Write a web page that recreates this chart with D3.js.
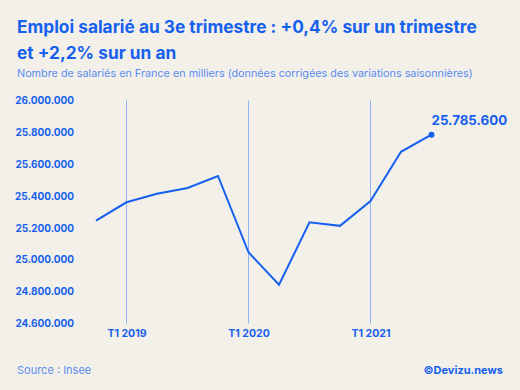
<!DOCTYPE html>
<meta charset="utf-8">
<script src="https://d3js.org/d3.v7.min.js"></script>
<style>
  body { margin: 0; background: #f3f0ea; }
  text { font-family: Inter, "Noto Sans", sans-serif; }
</style>
<div id="chart"></div>
<script>

// quarters from T4 2018 to T3 2021
var quarters = ["T4 2018", "T1 2019", "T2 2019", "T3 2019", "T4 2019", "T1 2020",
                "T2 2020", "T3 2020", "T4 2020", "T1 2021", "T2 2021", "T3 2021"];
var salaries = [25246000, 25361000, 25415000, 25451000, 25526000, 25047000,
                24843000, 25235000, 25213000, 25369000, 25678000, 25785600];
var yTicks = [24600000, 24800000, 25000000, 25200000, 25400000, 25600000, 25800000, 26000000];
var xMarks = ["T1 2019", "T1 2020", "T1 2021"];

var blue = "#1660ee";
var W = 520, H = 390;

var svg = d3.select("#chart").append("svg")
    .attr("width", W)
    .attr("height", H);

svg.append("rect").attr("width", W).attr("height", H).attr("fill", "#f3f0ea");

// scales
var x = d3.scalePoint()
    .domain(quarters)
    .range([96, 431.5]);

var y = d3.scaleLinear()
    .domain([24600000, 26000000])
    .range([323.5, 100.5]);

var fmt = function(v) { return d3.format(",")(v).replace(/,/g, "."); };

// titles
svg.append("text")
    .attr("x", 17).attr("y", 33)
    .attr("fill", blue)
    .style("font-size", "17.3px").style("font-weight", 700)
    .text("Emploi salarié au 3e trimestre : +0,4% sur un trimestre");
svg.append("text")
    .attr("x", 17).attr("y", 59)
    .attr("fill", blue)
    .style("font-size", "17.3px").style("font-weight", 700)
    .text("et +2,2% sur un an");
svg.append("text")
    .attr("x", 17).attr("y", 77)
    .attr("fill", "#5b8df0")
    .style("font-size", "10.8px")
    .text("Nombre de salariés en France en milliers (données corrigées des variations saisonnières)");

// vertical year lines
svg.selectAll(".vline")
    .data(xMarks)
    .enter().append("line")
    .attr("x1", function(d) { return x(d); })
    .attr("x2", function(d) { return x(d); })
    .attr("y1", y(26000000))
    .attr("y2", y(24600000))
    .attr("stroke", "#8fb1f4")
    .attr("stroke-width", 1);

// y axis
var yAxis = svg.append("g")
    .attr("transform", "translate(74,0)")
    .call(d3.axisLeft(y).tickValues(yTicks).tickFormat(fmt).tickSize(0).tickPadding(0));
yAxis.select(".domain").remove();
yAxis.selectAll("text")
    .attr("fill", blue)
    .style("font-size", "10px").style("font-weight", 700)
    .style("font-family", "Inter, sans-serif");

// x axis labels
var xAxis = svg.append("g")
    .attr("transform", "translate(0,330)")
    .call(d3.axisBottom(x).tickValues(xMarks).tickSize(0).tickPadding(0));
xAxis.select(".domain").remove();
xAxis.selectAll("text")
    .attr("fill", blue)
    .attr("dy", "0.71em")
    .style("font-size", "10.5px").style("font-weight", 700)
    .style("font-family", "Inter, sans-serif");

// line
var line = d3.line()
    .x(function(d, i) { return x(quarters[i]); })
    .y(function(d) { return y(d); });

svg.append("path")
    .datum(salaries)
    .attr("d", line)
    .attr("fill", "none")
    .attr("stroke", blue)
    .attr("stroke-width", 2);

var last = salaries.length - 1;
svg.append("circle")
    .attr("cx", x(quarters[last]))
    .attr("cy", y(salaries[last]))
    .attr("r", 3)
    .attr("fill", blue);

svg.append("text")
    .attr("x", x(quarters[last]))
    .attr("y", 125)
    .attr("fill", blue)
    .style("font-size", "13.3px").style("font-weight", 700)
    .text(fmt(salaries[last]));

// footer
svg.append("text")
    .attr("x", 17).attr("y", 374)
    .attr("fill", "#5b8df0")
    .style("font-size", "11px")
    .text("Source : Insee");
svg.append("text")
    .attr("x", 503).attr("y", 374)
    .attr("text-anchor", "end")
    .attr("fill", blue)
    .style("font-size", "11px").style("font-weight", 700)
    .text("©Devizu.news");

</script>
